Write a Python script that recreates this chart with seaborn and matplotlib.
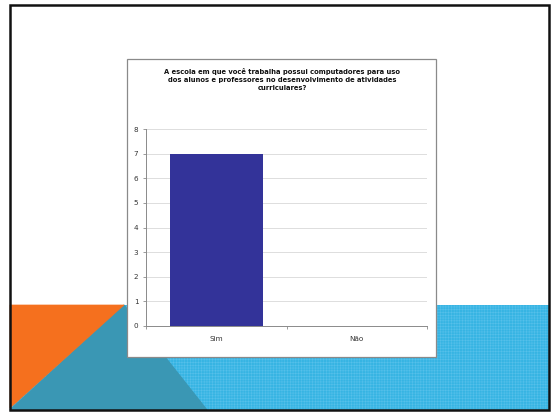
import matplotlib
matplotlib.use("Agg")
import matplotlib.pyplot as plt
import seaborn as sns
import pandas as pd
from matplotlib.patches import Polygon

categories = ["Sim", "Não"]
values = [7, 0]
title = ("A escola em que você trabalha possui computadores para uso\n"
         "dos alunos e professores no desenvolvimento de atividades\n"
         "curriculares?")
yticks = [0, 1, 2, 3, 4, 5, 6, 7, 8]

W, H = 552, 412
sns.set_style("white")
plt.rcParams['font.family'] = ['DejaVu Sans']
plt.rcParams['hatch.linewidth'] = 0.4

fig = plt.figure(figsize=(W / 100, H / 100), dpi=100)
fig.patch.set_facecolor("white")

def P(x, y):
    return (x / W, 1 - y / H)

def poly(pts, z=-5, **kw):
    p = Polygon([P(*q) for q in pts], closed=True,
                transform=fig.transFigure, figure=fig, zorder=z, **kw)
    fig.patches.append(p)
    return p

# slide decoration
poly([(10, 305), (549, 305), (549, 410), (10, 410)], z=-6,
     facecolor="#36b4e3", edgecolor="#55c0ea", hatch="++++++", linewidth=0)
poly([(124, 305), (207, 410), (10, 410)], facecolor="#3a97b4",
     edgecolor="#3a97b4", linewidth=0.8)
poly([(10, 305), (124, 305), (10, 408)], facecolor="#f5701e",
     edgecolor="#f5701e", linewidth=0.5)

# slide border
poly([(10, 5), (549, 5), (549, 410), (10, 410)], z=-3, facecolor="none",
     edgecolor="#111111", linewidth=1.8)

# chart frame
poly([(127, 59), (436, 59), (436, 357), (127, 357)], z=-2, facecolor="white",
     edgecolor="#8a8a8a", linewidth=0.9)

fig.text(282 / W, 1 - 68 / H, title, ha="center", va="top", fontsize=4.9,
         fontweight="bold", linespacing=1.4, color="#111111")

ax = fig.add_axes([146 / W, (H - 326) / H, 281 / W, (326 - 129) / H])
df = pd.DataFrame({"cat": categories, "val": values})
sns.barplot(data=df, x="cat", y="val", ax=ax, color="#333399", width=0.66,
            saturation=1, edgecolor="none")
ax.set_ylim(0, 8)
ax.set_xlim(-0.5, 1.5)
ax.set_yticks(yticks)
ax.set_xlabel("")
ax.set_ylabel("")
ax.set_facecolor("none")
ax.yaxis.grid(True, color="#d8d8d8", linewidth=0.6)
ax.set_axisbelow(True)
for s in ["top", "right"]:
    ax.spines[s].set_visible(False)
for s in ["left", "bottom"]:
    ax.spines[s].set_color("#8a8a8a")
    ax.spines[s].set_linewidth(0.7)
ax.tick_params(axis="y", which="both", left=True, length=2.5, width=0.6,
               color="#8a8a8a", labelsize=5.2, pad=3, labelcolor="#333333")
ax.tick_params(axis="x", bottom=False, labelsize=5.2, pad=4, labelcolor="#333333")
ax.set_xticks([-0.5, 0.5, 1.5], minor=True)
ax.tick_params(axis="x", which="minor", bottom=True, length=2.5, width=0.6,
               color="#8a8a8a")

fig.savefig("out.png", dpi=100, facecolor="white")
